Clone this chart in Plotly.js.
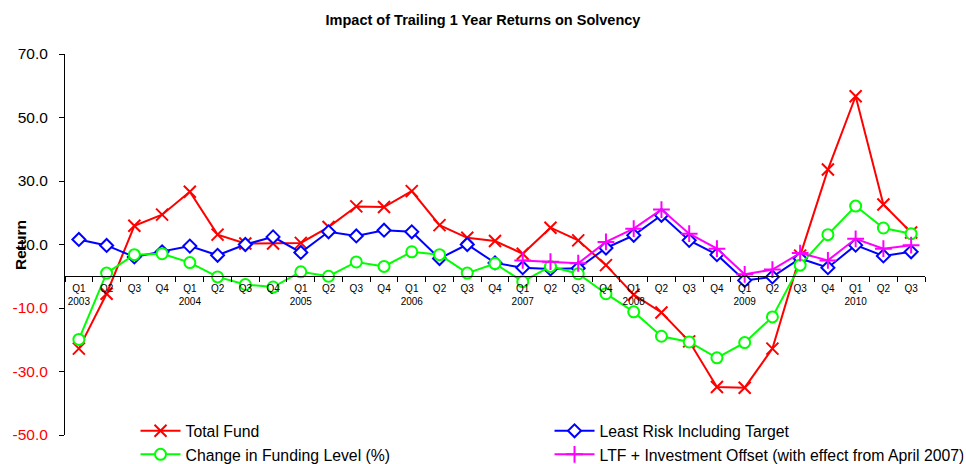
<!DOCTYPE html>
<html>
<head>
<meta charset="utf-8">
<script src="https://cdn.plot.ly/plotly-3.0.1.min.js"></script>
<style>html,body{margin:0;padding:0;background:#fff;}#chart{width:966px;height:464px;}</style>
</head>
<body>
<div id="chart"></div>
<script>
const periods = ['2003Q1','2003Q2','2003Q3','2003Q4','2004Q1','2004Q2','2004Q3','2004Q4',
  '2005Q1','2005Q2','2005Q3','2005Q4','2006Q1','2006Q2','2006Q3','2006Q4',
  '2007Q1','2007Q2','2007Q3','2007Q4','2008Q1','2008Q2','2008Q3','2008Q4',
  '2009Q1','2009Q2','2009Q3','2009Q4','2010Q1','2010Q2','2010Q3'];
const tickLabels = ['Q1<br>2003','Q2','Q3','Q4','Q1<br>2004','Q2','Q3','Q4',
  'Q1<br>2005','Q2','Q3','Q4','Q1<br>2006','Q2','Q3','Q4',
  'Q1<br>2007','Q2','Q3','Q4','Q1<br>2008','Q2','Q3','Q4',
  'Q1<br>2009','Q2','Q3','Q4','Q1<br>2010','Q2','Q3'];
const totalFund = [-22.8,-5.5,15.9,19.4,26.6,13.1,10.3,10.3,10.5,15.5,22.0,21.8,26.8,16.1,12.1,11.1,
  7.1,15.3,11.3,3.5,-5.8,-11.4,-20.5,-34.9,-35.1,-22.8,6.5,33.6,56.7,22.6,13.8];
const leastRisk = [11.6,9.7,6.1,7.7,9.5,6.6,10.0,12.4,7.5,14.0,12.7,14.5,14.0,5.6,10.0,4.2,
  2.7,2.3,2.5,8.9,12.9,19.2,11.3,6.8,-1.3,-0.2,5.6,2.7,9.8,6.4,7.7];
const fundingChange = [-19.9,1.0,6.8,7.1,4.3,-0.2,-2.6,-3.4,1.4,0.0,4.5,3.1,7.7,6.8,1.0,4.0,
  -1.7,3.1,0.8,-5.5,-11.2,-18.9,-20.7,-25.7,-20.9,-12.8,3.5,13.1,22.1,15.2,13.4];
const ltfOffset = [null,null,null,null,null,null,null,null,null,null,null,null,null,null,null,null,
  5.0,4.6,4.1,10.8,15.0,21.0,13.4,8.7,0.6,2.1,7.3,5.0,11.8,8.7,9.8];
const yTickVals = [-50,-30,-10,10,30,50,70];
const yTickText = ['<span style="color:#ff0000">-50.0</span>','<span style="color:#ff0000">-30.0</span>',
  '<span style="color:#ff0000">-10.0</span>','10.0','30.0','50.0','70.0'];
const yRange = [-50,70];

const FONT = 'Liberation Sans, Arial, sans-serif';
const traces = [
  {name:'Total Fund', x:periods, y:totalFund, type:'scatter', mode:'lines+markers',
   line:{color:'#ff0000', width:2},
   marker:{symbol:'x-thin-open', size:12, color:'#ff0000', line:{color:'#ff0000', width:2}}},
  {name:'Least Risk Including Target', x:periods, y:leastRisk, type:'scatter', mode:'lines+markers',
   line:{color:'#0000ff', width:2},
   marker:{symbol:'diamond', size:10, color:'#ffffff', line:{color:'#0000ff', width:2}}},
  {name:'Change in Funding Level (%)', x:periods, y:fundingChange, type:'scatter', mode:'lines+markers',
   line:{color:'#00ff00', width:2},
   marker:{symbol:'circle', size:11, color:'#ffffff', line:{color:'#00ff00', width:2}}},
  {name:'LTF + Investment Offset (with effect from April 2007)', x:periods, y:ltfOffset, type:'scatter', mode:'lines+markers',
   line:{color:'#ff00ff', width:2},
   marker:{symbol:'cross-thin-open', size:12, color:'#ff00ff', line:{color:'#ff00ff', width:2}}}
];

const zeroPos = (0 - yRange[0]) / (yRange[1] - yRange[0]);

const layout = {
  width:966, height:464,
  margin:{l:65, r:41, t:54, b:29, autoexpand:false},
  paper_bgcolor:'#ffffff', plot_bgcolor:'rgba(0,0,0,0)',
  font:{family:FONT, color:'#000000'},
  title:{text:'<b>Impact of Trailing 1 Year Returns on Solvency</b>', font:{family:FONT, size:14.5, color:'#000'},
    x:0.5, xref:'container', xanchor:'center', y:1-20/464, yref:'container', yanchor:'middle'},
  showlegend:true,
  legend:{orientation:'h', x:0.082, xanchor:'left', y:0.055, yanchor:'top',
    font:{family:FONT, size:15.8, color:'#000'}, bgcolor:'rgba(0,0,0,0)',
    entrywidth:359, entrywidthmode:'pixels', itemwidth:40, traceorder:'normal'},
  xaxis:{type:'category', categoryorder:'array', categoryarray:periods,
    tickmode:'array', tickvals:periods, ticktext:tickLabels, tickangle:0,
    tickfont:{family:FONT, size:10, color:'#000'}, ticklabelstandoff:3,
    anchor:'free', position:zeroPos,
    showline:true, linecolor:'#000', linewidth:1,
    ticks:'outside', ticklen:5, tickcolor:'#000', tickson:'boundaries',
    showgrid:false, zeroline:false, range:[-0.5, 30.5], automargin:false},
  yaxis:{range:yRange, tickmode:'array', tickvals:yTickVals, ticktext:yTickText,
    tickfont:{family:FONT, size:15.5, color:'#000'}, ticklabelstandoff:8,
    showline:true, linecolor:'#000', linewidth:1,
    ticks:'outside', ticklen:5, tickcolor:'#000',
    showgrid:false, zeroline:false, automargin:false},
  annotations:[{text:'<b>Return</b>', textangle:-90, xref:'paper', yref:'paper',
    x:(21-65)/860, y:(435-245)/381, xanchor:'center', yanchor:'middle', showarrow:false,
    font:{family:FONT, size:15.5, color:'#000'}}]
};

Plotly.newPlot('chart', traces, layout, {displayModeBar:false, staticPlot:true});
</script>
</body>
</html>
